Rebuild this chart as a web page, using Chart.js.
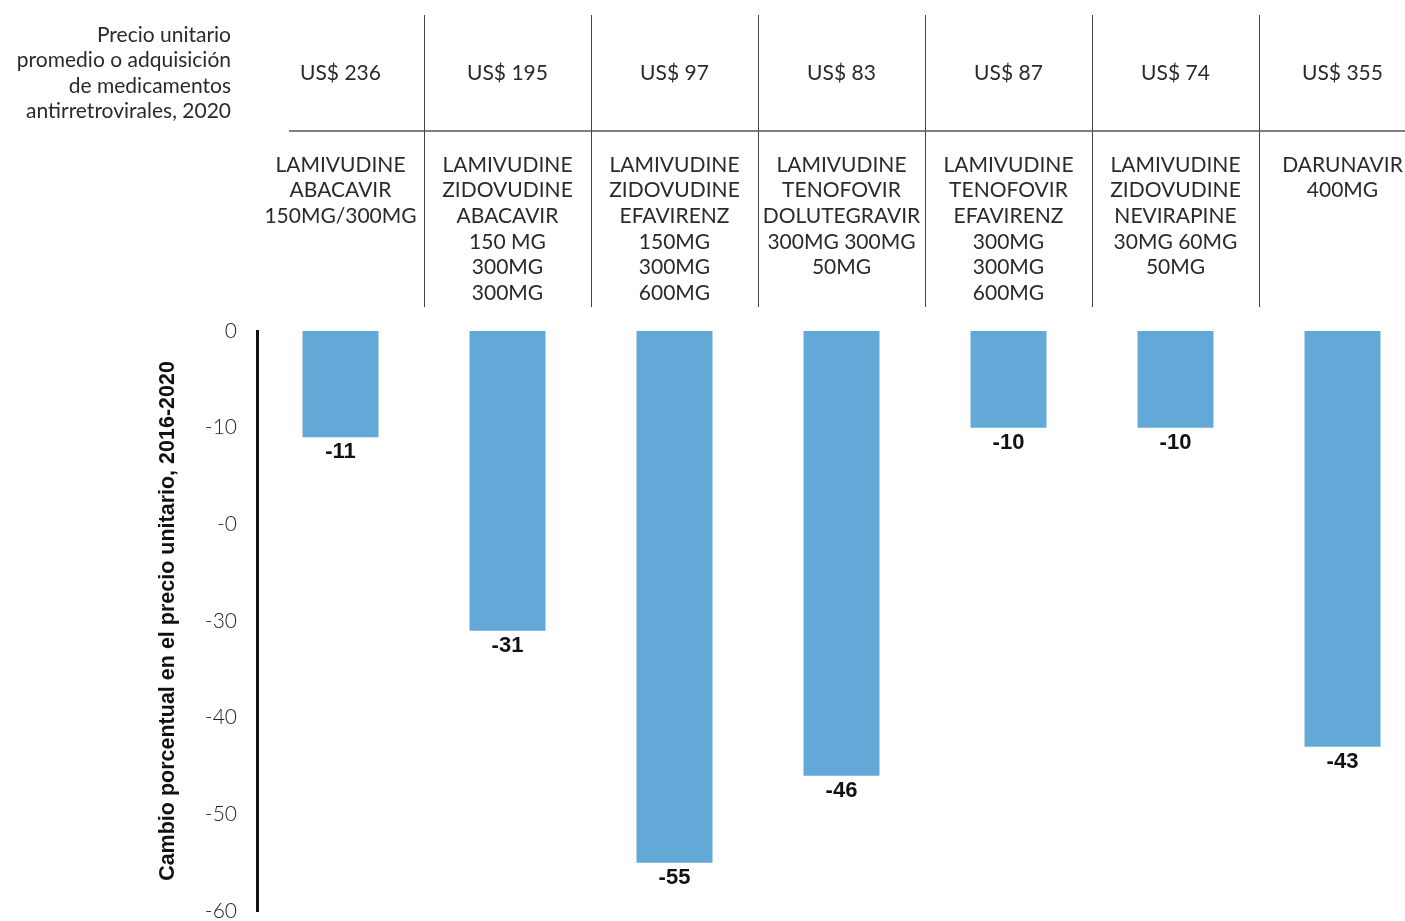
<!DOCTYPE html>
<html>
<head>
<meta charset="utf-8">
<script src="https://cdn.jsdelivr.net/npm/chart.js@4/dist/chart.umd.min.js"></script>
<style>
    html, body { margin: 0; padding: 0; background: #fff; overflow: hidden; }
    canvas { display: block; }
</style>
</head>
<body>
<canvas id="precios" width="1430" height="921"></canvas>
<script>
const prices = ['US$ 236', 'US$ 195', 'US$ 97', 'US$ 83', 'US$ 87', 'US$ 74', 'US$ 355']
const drugs = [
    ['LAMIVUDINE', 'ABACAVIR', '150MG/300MG'],
    ['LAMIVUDINE', 'ZIDOVUDINE', 'ABACAVIR', '150 MG', '300MG', '300MG'],
    ['LAMIVUDINE', 'ZIDOVUDINE', 'EFAVIRENZ', '150MG', '300MG', '600MG'],
    ['LAMIVUDINE', 'TENOFOVIR', 'DOLUTEGRAVIR', '300MG 300MG', '50MG'],
    ['LAMIVUDINE', 'TENOFOVIR', 'EFAVIRENZ', '300MG', '300MG', '600MG'],
    ['LAMIVUDINE', 'ZIDOVUDINE', 'NEVIRAPINE', '30MG 60MG', '50MG'],
    ['DARUNAVIR', '400MG']
]
const changes = [-11, -31, -55, -46, -10, -10, -43]
const tickValues = [0, -10, -20, -30, -40, -50, -60]
const tickLabels = ['0', '-10', '-0', '-30', '-40', '-50', '-60']
const headerTitle = ['Precio unitario', 'promedio o adquisición', 'de medicamentos', 'antirretrovirales, 2020']
const axisTitle = 'Cambio porcentual en el precio unitario, 2016-2020'

const lightFont = '"Lato", "Noto Sans", sans-serif'
const boldFont = '"Liberation Sans", Arial, sans-serif'

// table header above the bars, plus value labels and the rotated axis title
const headerPlugin = {
    id: 'header',
    afterDraw(chart) {
        const ctx = chart.ctx
        const x = chart.scales.x
        const area = chart.chartArea
        const step = x.getPixelForValue(1) - x.getPixelForValue(0)

        ctx.save()
        ctx.fillStyle = '#2a2a2a'
        ctx.font = '400 21px ' + lightFont
        ctx.textAlign = 'right'
        ctx.textBaseline = 'middle'
        headerTitle.forEach((line, i) => ctx.fillText(line, 231, 35 + i * 25.5))

        ctx.strokeStyle = '#444'
        ctx.lineWidth = 1
        for (let i = 0; i < prices.length - 1; i++) {
            const sx = Math.round(x.getPixelForValue(i) + step / 2) + 0.5
            ctx.beginPath()
            ctx.moveTo(sx, 15)
            ctx.lineTo(sx, 307)
            ctx.stroke()
        }
        ctx.strokeStyle = '#555'
        ctx.lineWidth = 1.5
        ctx.beginPath()
        ctx.moveTo(289, 131)
        ctx.lineTo(chart.width, 131)
        ctx.stroke()

        ctx.textAlign = 'center'
        prices.forEach((p, i) => {
            const cx = x.getPixelForValue(i)
            ctx.fillText(p, cx, 73)
            drugs[i].forEach((line, j) => ctx.fillText(line, cx, 165 + j * 25.6))
        })

        // values under each bar end
        const meta = chart.getDatasetMeta(0)
        ctx.font = 'bold 22px ' + boldFont
        ctx.fillStyle = '#111'
        meta.data.forEach((bar, i) => {
            ctx.fillText(String(changes[i]), bar.x, bar.y + 15)
        })

        ctx.translate(168, (area.top + area.bottom) / 2)
        ctx.rotate(-Math.PI / 2)
        ctx.font = 'bold 21.5px ' + boldFont
        ctx.fillText(axisTitle, 0, 0)
        ctx.restore()
    }
}

const ctx = document.getElementById('precios')
new Chart(ctx, {
    type: 'bar',
    data: {
        labels: prices,
        datasets: [{
            data: changes,
            backgroundColor: '#63a9d8',
            borderWidth: 0,
            categoryPercentage: 1,
            barPercentage: 0.455
        }]
    },
    options: {
        responsive: false,
        animation: false,
        layout: { padding: { top: 331, bottom: 10, right: 4, left: 0 } },
        plugins: {
            legend: { display: false },
            tooltip: { enabled: false }
        },
        scales: {
            x: {
                display: false,
                offset: true
            },
            y: {
                min: -60,
                max: 0,
                afterFit(scale) {
                    scale.width = 257
                    scale.paddingTop = 0
                    scale.paddingBottom = 0
                },
                afterBuildTicks(scale) {
                    scale.ticks = tickValues.map(v => ({ value: v }))
                },
                grid: { display: false, drawTicks: false },
                border: { display: true, color: '#111', width: 3 },
                ticks: {
                    padding: 20,
                    color: '#222',
                    font: { family: lightFont, size: 21, weight: '300' },
                    callback: (value) => tickLabels[tickValues.indexOf(value)]
                }
            }
        }
    },
    plugins: [headerPlugin]
})
</script>
</body>
</html>
